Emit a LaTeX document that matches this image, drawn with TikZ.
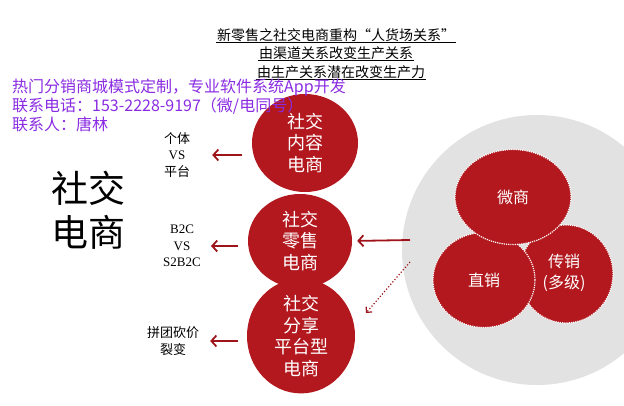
\documentclass[tikz,border=0pt]{standalone}
\usepackage{fontspec}
\setmainfont{Noto Sans CJK SC}
\newfontfamily\latin{Liberation Serif}
\usepackage{xcolor}
\usetikzlibrary{arrows.meta,positioning,shapes.geometric}
\definecolor{socred}{RGB}{178,24,30}
\definecolor{arrred}{RGB}{158,20,26}
\definecolor{ringgray}{RGB}{226,226,226}
\definecolor{adviolet}{RGB}{138,43,226}

\begin{document}
\begin{tikzpicture}[x=1pt,y=-1pt,
  bubble/.style={ellipse, fill=socred, text=white, align=center, inner sep=0pt,
    font=\fontsize{18}{21.5}\selectfont},
  minibubble/.style={ellipse, fill=socred, draw=white, densely dotted, line width=1.2pt,
    text=white, align=center, inner sep=0pt, font=\fontsize{16}{21}\selectfont},
  side/.style={align=center, inner sep=0pt, font=\fontsize{13}{16.5}\selectfont},
  toarrow/.style={draw=arrred, line width=1.8pt, -{Straight Barb[length=5pt,width=11pt]}},
  heading/.style={inner sep=1pt, font=\fontsize{14}{16}\selectfont},
  adline/.style={anchor=west, inner sep=0pt, text=adviolet, font=\fontsize{16}{18}\selectfont},
]
\path[use as bounding box] (0,0) rectangle (624,406);
\clip (0,0) rectangle (624,406);
% headings
\node[heading] (h1) at (336,35) {新零售之社交电商重构“人货场关系”};
\node[heading] (h2) at (336,53) {由渠道关系改变生产关系};
\node[heading] (h3) at (341,72) {由生产关系潜在改变生产力};
\foreach \h in {h1,h2,h3}{
  \draw[line width=0.6pt] (\h.south west) -- (\h.south east);
}
% big title
\node[align=center, inner sep=0pt, font=\fontsize{37}{44}\selectfont] (title) at (88,210) {社交\\电商};
% three kinds of social commerce
\node[bubble, minimum width=106, minimum height=98] (content) at (305,143) {社交\\内容\\电商};
\node[bubble, minimum width=104, minimum height=94] (retail) at (300,241) {社交\\零售\\电商};
\node[bubble, minimum width=108, minimum height=98] (share) at (301,336) {社交\\分享\\平台型\\电商};
% side labels
\node[side] (vs1) at (177,155) {个体\\{\latin VS}\\平台};
\node[side] (vs2) at (182,246) {\latin B2C\\\latin VS\\\latin S2B2C};
\node[side] (vs3) at (173,341) {拼团砍价\\裂变};
\draw[toarrow, shorten <=10pt, shorten >=22pt] (vs1.east -| content.west) -- (vs1.east);
\draw[toarrow, shorten <=10pt, shorten >=10pt] (vs2.east -| retail.west) -- (vs2.east);
\draw[toarrow, shorten <=9pt, shorten >=11pt] (vs3.east -| share.west) -- (vs3.east);
% grey ring with the three channels
\node[circle, fill=ringgray, minimum size=270, inner sep=0pt] (ring) at (537,250) {};
\node[minibubble, minimum width=94, minimum height=98] (chuan) at (566,274) {};
\node[minibubble, minimum width=102, minimum height=95] (zhi) at (484,280) {直销};
\node[minibubble, minimum width=116, minimum height=95] (wei) at (513,197) {微商};
\node[align=center, text=white, inner sep=0pt, font=\fontsize{16}{21}\selectfont] (chuantext) at (564,273) {传销\\(多级)};
% feeds into the middle and bottom bubbles
\coordinate (feed) at (410,240);
\coordinate (dotstart) at (410,262);
\coordinate (dotend) at (366,313);
\draw[toarrow, shorten >=5pt] (feed) -- (retail.east);
\draw[draw=arrred, line width=1.2pt, dotted, -{Straight Barb[length=4pt,width=8pt]}] (dotstart) -- (dotend);
% contact lines
\node[adline] (ad1) at (12,88) {热门分销商城模式定制，专业软件系统App开发};
\node[adline] (ad2) at (12,106) {联系电话：153-2228-9197（微/电同号）};
\node[adline] (ad3) at (12,124) {联系人：唐林};
\end{tikzpicture}
\end{document}
